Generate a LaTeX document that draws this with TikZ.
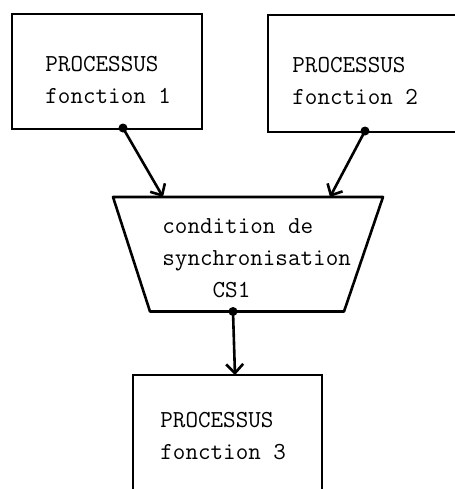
\documentclass[tikz,border=0pt]{standalone}
\usetikzlibrary{positioning, arrows.meta, calc}

\begin{document}
\begin{tikzpicture}[
  x=0.5pt, y=-0.5pt,
  font=\fontsize{12.2}{16}\selectfont\ttfamily,
  arr/.style={-{Straight Barb[length=4.5pt,width=8.5pt]}, line width=1.3pt},
  pbox/.style={draw, line width=1.3pt, minimum width=95pt, minimum height=58pt, inner sep=0pt},
  txt/.style={align=left, inner sep=0pt, anchor=west},
  dot/.style={circle, fill, inner sep=0pt, minimum size=4.5pt}
]
\useasboundingbox (0,0) rectangle (455,489);

% ================= PROCESSES =================
\node[pbox, minimum height=57.5pt] (p1) at (107,71.5) {};
\node[txt] (p1t) at (45,80) {PROCESSUS\\fonction 1};
\node[pbox, minimum width=98pt, minimum height=58.5pt] (p2) at (366,73.5) {};
\node[txt] (p2t) at (292,81) {PROCESSUS\\fonction 2};
\node[pbox, minimum width=94.5pt, minimum height=58.5pt] (p3) at (227.5,433.5) {};
\node[txt] (p3t) at (160,436) {PROCESSUS\\fonction 3};

% ================= SYNCHRONISATION =================
\coordinate (tl) at (113,197);
\coordinate (tr) at (383,197);
\coordinate (br) at (344,311.5);
\coordinate (bl) at (150,311.5);
\draw[line width=1.3pt, line join=round] (tl) -- (tr) -- (br) -- (bl) -- cycle;
\node[txt] (cst) at (162,258)
  {condition de\\synchronisation\\\phantom{xxxx}CS1};

% ================= ARROWS =================
\node[dot] (d1) at (123,128) {};
\node[dot] (d2) at (365,131) {};
\node[dot] (d3) at (233,311.5) {};
\coordinate (a1) at (163,197);
\coordinate (a2) at (330,197);
\coordinate (a3) at (235,375);
\draw[arr] (d1.center) -- (a1);
\draw[arr] (d2.center) -- (a2);
\draw[arr] (d3.center) -- (a3);
\end{tikzpicture}
\end{document}
